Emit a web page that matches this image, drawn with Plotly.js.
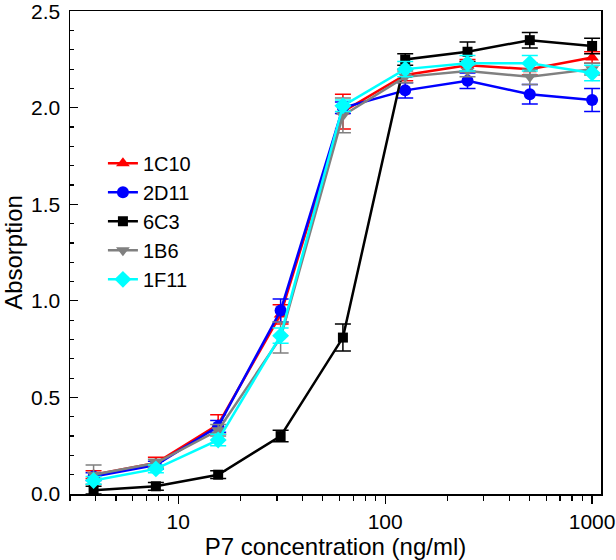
<!DOCTYPE html>
<html>
<head>
<meta charset="utf-8">
<script src="https://cdn.plot.ly/plotly-3.0.1.min.js"></script>
<style>html,body{margin:0;padding:0;background:#fff}#chart{width:616px;height:560px}</style>
</head>
<body>
<div id="chart"></div>
<script>
const concentration = [3.9, 7.8, 15.6, 31.25, 62.5, 125, 250, 500, 1000];

const names = ["1C10", "2D11", "6C3", "1B6", "1F11"];

const v1C10 = [0.10, 0.16, 0.36, 0.93, 1.98, 2.17, 2.22, 2.20, 2.26];
const e1C10 = [0.02, 0.03, 0.05, 0.05, 0.09, 0.03, 0.03, 0.03, 0.03];

const v2D11 = [0.09, 0.15, 0.35, 0.95, 2.00, 2.09, 2.14, 2.07, 2.04];
const e2D11 = [0.02, 0.02, 0.03, 0.06, 0.03, 0.04, 0.04, 0.05, 0.06];

const v6C3 = [0.02, 0.04, 0.10, 0.30, 0.81, 2.25, 2.29, 2.35, 2.32];
const e6C3 = [0.02, 0.02, 0.02, 0.03, 0.07, 0.03, 0.05, 0.04, 0.04];

const v1B6 = [0.10, 0.16, 0.33, 0.81, 1.96, 2.16, 2.19, 2.16, 2.20];
const e1B6 = [0.05, 0.02, 0.03, 0.08, 0.09, 0.03, 0.03, 0.04, 0.03];

const v1F11 = [0.07, 0.13, 0.28, 0.82, 2.01, 2.20, 2.23, 2.23, 2.18];
const e1F11 = [0.02, 0.02, 0.03, 0.04, 0.03, 0.04, 0.04, 0.04, 0.04];

const xTickVals = [10, 100, 1000];
const xTickText = ["10", "100", "1000"];
const yTickVals = [0, 0.5, 1.0, 1.5, 2.0, 2.5];
const yTickText = ["0.0", "0.5", "1.0", "1.5", "2.0", "2.5"];

const seriesValues = [v1C10, v2D11, v6C3, v1B6, v1F11];
const seriesErrors = [e1C10, e2D11, e6C3, e1B6, e1F11];

const colors = ["#ff0000", "#0000ff", "#000000", "#808080", "#00ffff"];
const symbols = ["triangle-up", "circle", "square", "triangle-down", "diamond"];
const sizes = [12, 12, 10, 12, 13];

const traces = names.map((n, i) => ({
  x: concentration,
  y: seriesValues[i],
  name: n,
  type: "scatter",
  mode: "lines+markers",
  line: {color: colors[i], width: 2.5},
  marker: {color: colors[i], symbol: symbols[i], size: sizes[i]},
  error_y: {type: "data", array: seriesErrors[i], visible: true, color: colors[i], thickness: 1.5, width: 8}
}));

const minorX = [];
[1, 10, 100].forEach(d => { for (let k = 2; k <= 9; k++) minorX.push(k * d); });

const layout = {
  width: 616, height: 560,
  margin: {l: 70, r: 15, t: 11, b: 66},
  paper_bgcolor: "#fff", plot_bgcolor: "#fff",
  font: {family: "Liberation Sans, Arial, sans-serif", color: "#000", size: 21},
  showlegend: true,
  legend: {x: 0.062, y: 0.725, xanchor: "left", yanchor: "top", bgcolor: "rgba(0,0,0,0)",
           font: {size: 20}, tracegroupgap: 0},
  xaxis: {
    type: "log", range: [Math.log10(3.0), 3.043],
    showline: true, linecolor: "#000", linewidth: 1.5, mirror: true,
    showgrid: false, zeroline: false,
    ticks: "outside", ticklen: 8, tickwidth: 1.2, tickcolor: "#000",
    tickvals: xTickVals, ticktext: xTickText, ticklabeloverflow: "allow",
    minor: {ticks: "outside", ticklen: 5, tickwidth: 1.2, tickcolor: "#000", tickvals: minorX, showgrid: false},
    title: {text: "P7 concentration (ng/ml)", font: {size: 24}, standoff: 2}
  },
  yaxis: {
    range: [0, 2.501],
    showline: true, linecolor: "#000", linewidth: 1.5, mirror: true,
    showgrid: false, zeroline: false,
    ticks: "inside", ticklen: 8, tickwidth: 1.2, tickcolor: "#000",
    tickvals: yTickVals, ticktext: yTickText, ticklabelstandoff: 4, ticklabeloverflow: "allow",
    minor: {ticks: "inside", ticklen: 4, tickwidth: 1.2, tickcolor: "#000", dtick: 0.1, showgrid: false},
    title: {text: "Absorption", font: {size: 24}, standoff: 4}
  }
};

Plotly.newPlot("chart", traces, layout, {displayModeBar: false, staticPlot: true});
</script>
</body>
</html>
